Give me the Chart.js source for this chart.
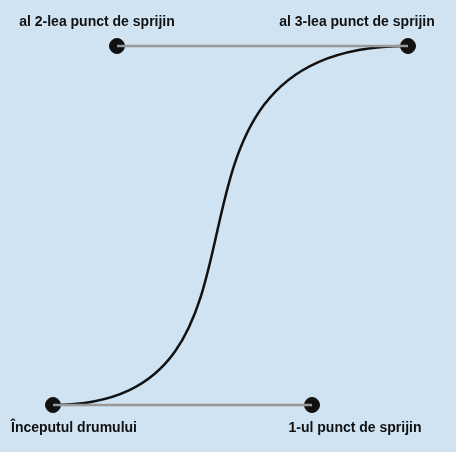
<!DOCTYPE html>
<html><head><meta charset="utf-8">
<script src="https://cdn.jsdelivr.net/npm/chart.js@4"></script>
<style>html,body{margin:0;padding:0;background:#cfe3f2;}canvas{display:block}</style>
</head><body>
<canvas id="c" width="456" height="452" style="width:456px;height:452px"></canvas>
<script>
const pointLabels = ["Începutul drumului","1-ul punct de sprijin","al 2-lea punct de sprijin","al 3-lea punct de sprijin"];
const xs = [53, 312, 117, 408];
const ys = [405, 405, 46, 46];
const labelX = [74, 355, 97, 357];
const labelY = [428, 428, 22, 22];

const pts = xs.map((x,i)=>({x, y: ys[i]}));

const bezierPlugin = {
  id:'bez',
  beforeDatasetsDraw(chart){
    const {ctx, scales:{x, y}} = chart;
    const p = pts.map(q=>[x.getPixelForValue(q.x), y.getPixelForValue(q.y)]);
    ctx.save();
    ctx.strokeStyle = '#111'; ctx.lineWidth = 2.5;
    ctx.beginPath(); ctx.moveTo(p[0][0],p[0][1]);
    ctx.bezierCurveTo(p[1][0],p[1][1],p[2][0],p[2][1],p[3][0],p[3][1]);
    ctx.stroke();
    ctx.restore();
  },
  afterDatasetsDraw(chart){
    const {ctx, scales:{x, y}} = chart;
    ctx.save();
    ctx.fillStyle = '#111';
    ctx.font = 'bold 14px "Liberation Sans", Arial, sans-serif';
    ctx.textAlign = 'center'; ctx.textBaseline = 'middle';
    pointLabels.forEach((t,i)=>ctx.fillText(t, x.getPixelForValue(labelX[i]), y.getPixelForValue(labelY[i])));
    ctx.restore();
  }
};

const chart = new Chart(document.getElementById('c'), {
  type:'scatter',
  data:{datasets:[
    {data:[pts[0],pts[1]], showLine:true, borderColor:'#999', borderWidth:2.5, pointRadius:0},
    {data:[pts[2],pts[3]], showLine:true, borderColor:'#999', borderWidth:2.5, pointRadius:0},
    {data:pts, showLine:false, pointRadius:7.5, pointBackgroundColor:'#111', pointBorderColor:'#111'}
  ]},
  options:{
    responsive:false, animation:false,
    layout:{padding:0},
    plugins:{legend:{display:false}, tooltip:{enabled:false}},
    scales:{
      x:{type:'linear', min:0, max:456, display:false},
      y:{type:'linear', min:0, max:452, reverse:true, display:false}
    }
  },
  plugins:[bezierPlugin]
});
// Align the scales so data units equal canvas pixels despite the automatic point padding
const a = chart.chartArea;
chart.options.scales.x.min = a.left; chart.options.scales.x.max = a.right;
chart.options.scales.y.min = a.top; chart.options.scales.y.max = a.bottom;
chart.update();
</script>
</body></html>
